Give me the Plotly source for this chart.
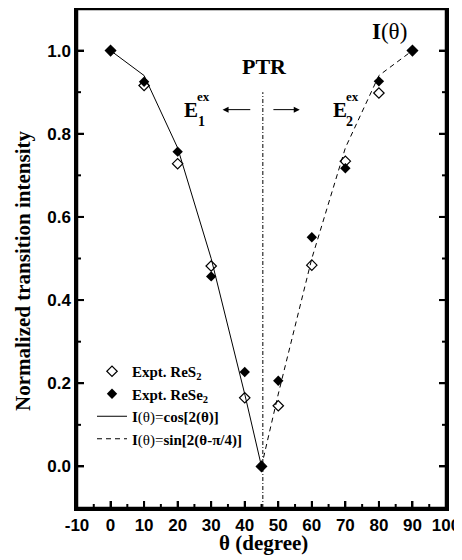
import plotly.graph_objects as go

# ---- data ----
theta_expt = [0, 10, 20, 30, 40, 45, 50, 60, 70, 80, 90]
res2 = [1.0, 0.916, 0.728, 0.482, 0.165, 0.0, 0.146, 0.484, 0.734, 0.898, 1.0]
rese2 = [1.0, 0.925, 0.757, 0.457, 0.227, 0.0, 0.206, 0.551, 0.717, 0.926, 1.0]

theta_cos = [0, 10, 20, 30, 40, 45]
i_cos = [1.0, 0.94, 0.766, 0.5, 0.174, 0.0]
theta_sin = [45, 50, 60, 70, 80, 90]
i_sin = [0.0, 0.174, 0.5, 0.766, 0.94, 1.0]

ptr_theta = 45.4
ptr_top = 0.90

x_ticks = [-10, 0, 10, 20, 30, 40, 50, 60, 70, 80, 90, 100]
x_labels = ["-10", "0", "10", "20", "30", "40", "50", "60", "70", "80", "90", "100"]
x_minor = [-5, 5, 15, 25, 35, 45, 55, 65, 75, 85, 95]
y_ticks = [0.0, 0.2, 0.4, 0.6, 0.8, 1.0]
y_labels = ["0.0", "0.2", "0.4", "0.6", "0.8", "1.0"]
y_minor = [-0.1, 0.1, 0.3, 0.5, 0.7, 0.9]

SERIF = "Liberation Serif"
SANS = "Liberation Sans"

fig = go.Figure()

fig.add_trace(go.Scatter(x=theta_cos, y=i_cos, mode="lines",
                         line=dict(color="black", width=1),
                         name="<b>I</b>(θ)=<b>cos[2(θ)]</b>", legendrank=3))
fig.add_trace(go.Scatter(x=theta_sin, y=i_sin, mode="lines",
                         line=dict(color="black", width=1, dash="5px,4px"),
                         name="<b>I</b>(θ)=<b>sin[2(θ-π/4)]</b>", legendrank=4))
fig.add_trace(go.Scatter(x=[ptr_theta, ptr_theta], y=[-0.1, ptr_top], mode="lines",
                         line=dict(color="black", width=1, dash="4px,2px,1px,2px"),
                         showlegend=False, hoverinfo="skip"))
fig.add_trace(go.Scatter(x=theta_expt, y=res2, mode="markers",
                         marker=dict(symbol="diamond-open", size=8, color="black",
                                     line=dict(width=1.2, color="black")),
                         name="<b>Expt. ReS<sub>2</sub></b>", legendrank=1))
fig.add_trace(go.Scatter(x=theta_expt, y=rese2, mode="markers",
                         marker=dict(symbol="diamond", size=8, color="black"),
                         name="<b>Expt. ReSe<sub>2</sub></b>", legendrank=2))

annotations = [
    dict(x=46.0, y=0.962, text="<b>PTR</b>", font=dict(family=SERIF, size=22, color="black")),
    dict(x=83.3, y=1.045, text="<b>I</b>(θ)", font=dict(family=SERIF, size=23, color="black")),
    dict(x=24.0, y=0.858, text="<b>E</b>", font=dict(family=SERIF, size=21, color="black")),
    dict(x=27.7, y=0.889, text="<b>ex</b>", font=dict(family=SERIF, size=13, color="black")),
    dict(x=27.0, y=0.830, text="<b>1</b>", font=dict(family=SERIF, size=14, color="black")),
    dict(x=68.3, y=0.858, text="<b>E</b>", font=dict(family=SERIF, size=21, color="black")),
    dict(x=72.0, y=0.889, text="<b>ex</b>", font=dict(family=SERIF, size=13, color="black")),
    dict(x=71.3, y=0.830, text="<b>2</b>", font=dict(family=SERIF, size=14, color="black")),
    dict(x=33.4, y=0.858, ax=42.1, ay=0.858, axref="x", ayref="y", text="",
         showarrow=True, arrowhead=2, arrowsize=1.2, arrowwidth=1, arrowcolor="black"),
    dict(x=56.4, y=0.858, ax=48.1, ay=0.858, axref="x", ayref="y", text="",
         showarrow=True, arrowhead=2, arrowsize=1.2, arrowwidth=1, arrowcolor="black"),
    dict(xref="paper", yref="paper", x=(23 - 77) / 369, y=(508 - 271) / 499,
         text="<b>Normalized transition intensity</b>", textangle=-90,
         xanchor="center", yanchor="middle",
         font=dict(family=SERIF, size=21, color="black")),
    dict(xref="paper", yref="paper", x=(263 - 77) / 369, y=(508 - 543) / 499,
         text="<b>θ (degree)</b>", xanchor="center", yanchor="middle",
         font=dict(family=SERIF, size=21, color="black")),
]
for a in annotations:
    a.setdefault("xref", "x")
    a.setdefault("yref", "y")
    a.setdefault("showarrow", False)

# frame and tick marks (tick positions come from the tick arrays, lengths in pixels)
shapes = [dict(type="rect", xref="paper", yref="paper", x0=0, x1=1, y0=0, y1=1,
               line=dict(color="black", width=2.5), layer="above")]
for vals, ln in ((x_ticks, 7), (x_minor, 4)):
    for v in vals:
        shapes.append(dict(type="line", xref="x", yref="paper", ysizemode="pixel", yanchor=0,
                           x0=v, x1=v, y0=0, y1=ln, line=dict(color="black", width=2),
                           layer="above"))
for vals, ln in ((y_ticks, 7), (y_minor, 4)):
    for v in vals:
        for side, sgn in ((0, 1), (1, -1)):
            shapes.append(dict(type="line", xref="paper", yref="y", xsizemode="pixel",
                               xanchor=side, x0=0, x1=sgn * ln, y0=v, y1=v,
                               line=dict(color="black", width=2), layer="above"))

fig.update_layout(
    template="none",
    width=454, height=552,
    margin=dict(l=69, r=16, t=1, b=52),
    paper_bgcolor="white", plot_bgcolor="white",
    showlegend=True,
    legend=dict(x=(92 - 77) / 369, y=(508 - 355) / 499, xanchor="left", yanchor="top",
                bgcolor="rgba(0,0,0,0)", font=dict(family=SERIF, size=15, color="black"),
                tracegroupgap=0),
    annotations=annotations,
    shapes=shapes,
    xaxis=dict(range=[-10, 100], tickmode="array", tickvals=x_ticks, ticktext=x_labels,
               ticks="inside", ticklen=7, tickwidth=2, tickcolor="black",
               showline=True, linewidth=2.5, linecolor="black", mirror=True,
               showgrid=False, zeroline=False,
               tickfont=dict(family=SANS, size=17, color="black", weight="bold")),
    yaxis=dict(range=[-0.1, 1.1], tickmode="array", tickvals=y_ticks, ticktext=y_labels,
               ticks="inside", ticklen=7, tickwidth=2, tickcolor="black",
               showline=True, linewidth=2.5, linecolor="black", mirror="ticks",
               showgrid=False, zeroline=False,
               tickfont=dict(family=SANS, size=17, color="black", weight="bold")),
)

fig.write_html("out.html")
